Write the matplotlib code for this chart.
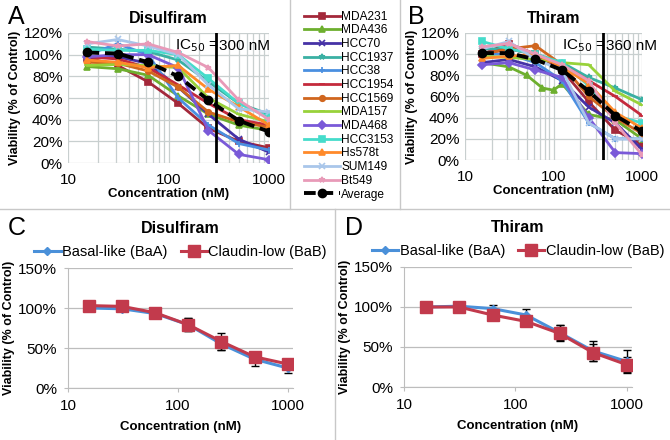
import matplotlib
matplotlib.use("Agg")
import matplotlib.pyplot as plt
import numpy as np
from matplotlib.ticker import PercentFormatter, FixedLocator, NullFormatter
from matplotlib.lines import Line2D

plt.rcParams['font.family'] = ['Liberation Sans', 'DejaVu Sans']

conc = [15.625, 31.25, 62.5, 125, 250, 500, 1000]
cell_lines = ["MDA231", "MDA436", "HCC70", "HCC1937", "HCC38", "HCC1954", "HCC1569",
              "MDA157", "MDA468", "HCC3153", "Hs578t", "SUM149", "Bt549"]
colors = ["#A3283A", "#6DAF2E", "#4632A6", "#3AB0A3", "#4A8FE0", "#C42A3C", "#D0661E",
          "#98D23A", "#7A5AD8", "#45DCCB", "#FF8A2A", "#A9C6EA", "#E89AB8"]
markers = ["s", "^", "x", "*", "+", "_", "o", "_", "D", "s", "^", "x", "*"]

# Panel A: Disulfiram viability (%)
disulfiram = [
    [97, 90, 75, 55, 32, 20, 14],
    [89, 87, 81, 62, 45, 35, 30],
    [97, 98, 92, 70, 45, 22, 10],
    [107, 105, 103, 95, 75, 55, 45],
    [100, 110, 100, 60, 35, 18, 12],
    [98, 96, 88, 72, 55, 40, 35],
    [93, 92, 85, 70, 47, 38, 33],
    [90, 91, 90, 88, 60, 45, 38],
    [98, 100, 100, 88, 30, 8, 3],
    [105, 104, 104, 100, 78, 55, 42],
    [95, 93, 88, 90, 68, 52, 35],
    [110, 114, 108, 100, 72, 50, 47],
    [112, 108, 110, 102, 88, 58, 40],
]
disulfiram_avg = [102, 101, 93, 80, 58, 39, 29]

# Panel B: Thiram viability (%)
thiram = [
    [100, 110, 100, 85, 55, 28, 15],
    [92, 88, 80, 68, 66, 72, 43, 38, 20],
    [92, 95, 88, 75, 50, 35, 10],
    [105, 105, 100, 92, 78, 68, 57],
    [100, 100, 92, 75, 35, 20, 20],
    [100, 105, 100, 90, 75, 60, 42],
    [100, 105, 108, 90, 60, 40, 25],
    [98, 97, 95, 92, 90, 65, 52],
    [90, 92, 85, 78, 40, 7, 6],
    [112, 105, 100, 92, 70, 42, 35],
    [96, 98, 100, 88, 72, 45, 30],
    [105, 112, 95, 85, 35, 20, 20],
    [107, 110, 100, 90, 75, 35, 5],
]
conc_mda436_thiram = [15.625, 31.25, 50, 75, 100, 125, 250, 500, 1000]
thiram_avg = [101, 101, 95, 85, 65, 42, 27]

# Panels C/D: subtype means and errors (%)
subtypes = ["Basal-like (BaA)", "Claudin-low (BaB)"]
sub_colors = ["#4A90D9", "#C23A4C"]
dis_baa = [100, 99, 93, 79, 55, 36, 25]
dis_baa_err = [2, 3, 5, 8, 8, 8, 6]
dis_bab = [103, 102, 94, 79, 58, 39, 30]
dis_bab_err = [2, 2, 5, 8, 11, 5, 5]
thi_baa = [100, 101, 98, 90, 68, 45, 32]
thi_baa_err = [2, 2, 5, 7, 9, 13, 14]
thi_bab = [100, 100, 90, 82, 67, 43, 28]
thi_bab_err = [2, 2, 5, 5, 10, 11, 9]

W, H = 670, 440
fig = plt.figure(figsize=(6.7, 4.4), dpi=100)


def axpx(l, r, t, b):
    return fig.add_axes([l / W, (H - b) / H, (r - l) / W, (b - t) / H])


grid_c = "#c8cfcf"


def style_top(ax):
    ax.set_xscale("log")
    ax.set_xlim(10, 1000)
    ax.set_ylim(0, 120)
    ax.set_yticks(np.arange(0, 121, 20))
    ax.yaxis.set_major_formatter(PercentFormatter(decimals=0))
    ax.set_xticks([10, 100, 1000])
    ax.set_xticklabels(["10", "100", "1000"])
    ax.xaxis.set_minor_formatter(NullFormatter())
    ax.grid(True, which="both", axis="x", color=grid_c, lw=0.9)
    ax.grid(True, which="major", axis="y", color=grid_c, lw=0.9)
    for s in ax.spines.values():
        s.set_visible(False)
    ax.tick_params(which="both", length=0, labelsize=11, pad=4)
    ax.tick_params(axis="x", pad=7)
    ax.set_xlabel("Concentration (nM)", fontsize=9.5, fontweight="bold", labelpad=1)
    ax.set_ylabel("Viability (% of Control)", fontsize=9, fontweight="bold", labelpad=2)


def style_bottom(ax):
    ax.set_xscale("log")
    ax.set_xlim(10, 1000 * 1.12)
    ax.set_ylim(0, 150)
    ax.set_yticks([0, 50, 100, 150])
    ax.yaxis.set_major_formatter(PercentFormatter(decimals=0))
    ax.set_xticks([10, 100, 1000])
    ax.set_xticklabels(["10", "100", "1000"])
    ax.xaxis.set_minor_locator(FixedLocator([]))
    ax.grid(True, axis="y", color="#bdbdbd", lw=0.9)
    ax.spines["top"].set_visible(False)
    ax.spines["right"].set_visible(False)
    ax.spines["left"].set_color("#bdbdbd")
    ax.spines["bottom"].set_color("#bdbdbd")
    ax.tick_params(which="both", length=3, color="#bdbdbd", labelsize=11, pad=5)
    ax.set_xlabel("Concentration (nM)", fontsize=9.5, fontweight="bold", labelpad=6)
    ax.set_ylabel("Viability (% of Control)", fontsize=9, fontweight="bold", labelpad=2)


# ---- Panel A ----
axA = axpx(68, 269, 33, 163)
handles = []
for name, col, mk, vals in zip(cell_lines, colors, markers, disulfiram):
    h, = axA.plot(conc, vals, color=col, lw=2, marker=mk, ms=4, mew=1.2,
                  mfc=col, mec=col, label=name)
    handles.append(h)
havg, = axA.plot(conc, disulfiram_avg, color="black", lw=2.8, ls=(0, (3, 1.5)),
                 marker="o", ms=6, label="Average")
handles.append(havg)
axA.axvline(300, color="black", lw=2)
axA.annotate("IC$_{50}$ =", xy=(300, 108), xytext=(2, 0), textcoords="offset points",
             ha="right", va="center", fontsize=11)
axA.annotate("300 nM", xy=(300, 108), xytext=(2, 0), textcoords="offset points",
             ha="left", va="center", fontsize=11)
style_top(axA)
axA.set_title("Disulfiram", fontsize=11.5, fontweight="bold", pad=7)
fig.text(8 / W, 1 - 17 / H, "A", fontsize=18, va="center", ha="left")

# ---- Panel B ----
axB = axpx(465, 642, 33, 160)
for i, (name, col, mk, vals) in enumerate(zip(cell_lines, colors, markers, thiram)):
    xs = conc_mda436_thiram if name == "MDA436" else conc
    axB.plot(xs, vals, color=col, lw=2, marker=mk, ms=4, mew=1.2, mfc=col, mec=col)
axB.plot(conc, thiram_avg, color="black", lw=2.8, ls=(0, (3, 1.5)), marker="o", ms=6)
axB.axvline(360, color="black", lw=2)
axB.annotate("IC$_{50}$ =", xy=(360, 108), xytext=(2, 0), textcoords="offset points",
             ha="right", va="center", fontsize=11)
axB.annotate("360 nM", xy=(360, 108), xytext=(2, 0), textcoords="offset points",
             ha="left", va="center", fontsize=11)
style_top(axB)
axB.set_title("Thiram", fontsize=11.5, fontweight="bold", pad=7)
fig.text(408 / W, 1 - 17 / H, "B", fontsize=18, va="center", ha="left")

# ---- Shared legend ----
fig.legend(handles, cell_lines + ["Average"], loc="upper left",
           bbox_to_anchor=(299 / W, 1 - 6 / H), frameon=False, fontsize=8.6,
           handlelength=3.0, handletextpad=0.15, labelspacing=0.14, borderaxespad=0)


def sub_handles():
    return [Line2D([], [], color=sub_colors[0], lw=2.2, marker="D", ms=4),
            Line2D([], [], color=sub_colors[1], lw=2.2, marker="s", ms=8)]


# ---- Panel C ----
axC = axpx(68, 293, 268, 388)
for lab, col, vals, err, mk, ms in [(subtypes[0], sub_colors[0], dis_baa, dis_baa_err, "D", 4),
                                     (subtypes[1], sub_colors[1], dis_bab, dis_bab_err, "s", 8)]:
    axC.errorbar(conc, vals, yerr=err, color=col, lw=2.2, marker=mk, ms=ms,
                 ecolor="black", elinewidth=1, capsize=3, label=lab)
style_bottom(axC)
axC.legend(sub_handles(), subtypes, loc="lower center", bbox_to_anchor=(0.5, 1.0), ncol=2,
           frameon=False, fontsize=10.5, handlelength=1.8, handletextpad=0.1,
           columnspacing=0.9, borderaxespad=0.2)
axC.set_title("Disulfiram", fontsize=11.5, fontweight="bold", pad=25)
fig.text(8 / W, 1 - 228 / H, "C", fontsize=18, va="center", ha="left")

# ---- Panel D ----
axD = axpx(404, 632, 267, 387)
for lab, col, vals, err, mk, ms in [(subtypes[0], sub_colors[0], thi_baa, thi_baa_err, "D", 4),
                                     (subtypes[1], sub_colors[1], thi_bab, thi_bab_err, "s", 8)]:
    axD.errorbar(conc, vals, yerr=err, color=col, lw=2.2, marker=mk, ms=ms,
                 ecolor="black", elinewidth=1, capsize=3, label=lab)
style_bottom(axD)
axD.legend(sub_handles(), subtypes, loc="lower center", bbox_to_anchor=(0.5, 1.0), ncol=2,
           frameon=False, fontsize=10.5, handlelength=1.8, handletextpad=0.1,
           columnspacing=0.9, borderaxespad=0.2)
axD.set_title("Thiram", fontsize=11.5, fontweight="bold", pad=25)
fig.text(345 / W, 1 - 228 / H, "D", fontsize=18, va="center", ha="left")

# ---- Separator lines ----
sep = "#c8c8c8"
fig.add_artist(Line2D([0, 1], [1 - 209 / H] * 2, color=sep, lw=1, transform=fig.transFigure))
fig.add_artist(Line2D([335 / W] * 2, [0, 1 - 209 / H], color=sep, lw=1, transform=fig.transFigure))
fig.add_artist(Line2D([290 / W] * 2, [1 - 209 / H, 1], color=sep, lw=1, transform=fig.transFigure))
fig.add_artist(Line2D([400 / W] * 2, [1 - 209 / H, 1], color=sep, lw=1, transform=fig.transFigure))

fig.savefig("out.png", dpi=100)
